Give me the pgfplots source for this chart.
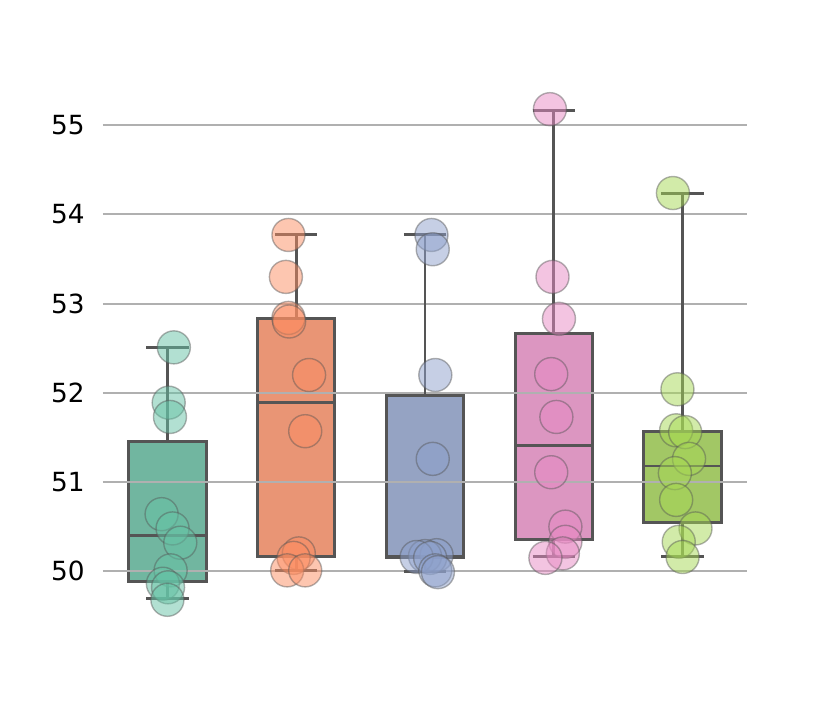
\documentclass[border=0pt]{standalone}
\usepackage{pgfplots}
\pgfplotsset{compat=1.18}
\usepackage{fontspec}
\setmainfont{DejaVu Sans}
\definecolor{bA}{RGB}{113,182,160}
\definecolor{bB}{RGB}{233,149,117}
\definecolor{bC}{RGB}{149,163,195}
\definecolor{bD}{RGB}{220,150,193}
\definecolor{bE}{RGB}{162,199,101}
\definecolor{pA}{HTML}{66C2A5}
\definecolor{pB}{HTML}{FC8D62}
\definecolor{pC}{HTML}{8DA0CB}
\definecolor{pD}{HTML}{E78AC3}
\definecolor{pE}{HTML}{A6D854}
\definecolor{edge}{RGB}{85,85,85}
\definecolor{gridc}{RGB}{176,176,176}
\pgfplotsset{
  bx/.style={line width=1.7pt, draw=edge, solid, mark=none, forget plot, line join=miter},
  ln/.style={line width=1.7pt, color=edge, solid, mark=none, forget plot},
  gl/.style={color=gridc, line width=1.1pt, mark=none, forget plot},
  pts/.style={only marks, mark=*, mark size=9.4pt, mark options={fill=#1, fill opacity=0.5, draw=edge, draw opacity=0.45, line width=0.8pt}},
}
\begin{document}
\begin{tikzpicture}
\useasboundingbox (-2.06,-1.78) rectangle (14.54,12.46);
\begin{axis}[
  scale only axis, width=12.88cm, height=10.74cm,
  xmin=-0.5, xmax=4.5, ymin=49.42, ymax=55.44,
  xtick=\empty,
  ytick={50,51,52,53,54,55},
  axis line style={draw=none},
  major tick length=0pt,
  ymajorgrids, grid style={color=gridc, line width=1.1pt},
  tick label style={font=\fontsize{15}{18}\selectfont},
  yticklabel style={inner sep=0pt, xshift=-0.36cm},
  /pgf/number format/assume math mode=true,
]
% boxes (Q1 to Q3)
\addplot[bx, fill=bA] coordinates {(-0.3,49.89) (0.3,49.89) (0.3,51.45) (-0.3,51.45)} -- cycle;
\addplot[bx, fill=bB] coordinates {(0.7,50.16) (1.3,50.16) (1.3,52.83) (0.7,52.83)} -- cycle;
\addplot[bx, fill=bC] coordinates {(1.7,50.15) (2.3,50.15) (2.3,51.97) (1.7,51.97)} -- cycle;
\addplot[bx, fill=bD] coordinates {(2.7,50.36) (3.3,50.36) (3.3,52.67) (2.7,52.67)} -- cycle;
\addplot[bx, fill=bE] coordinates {(3.7,50.55) (4.3,50.55) (4.3,51.57) (3.7,51.57)} -- cycle;

% grid drawn over the box fills
\addplot[gl] coordinates {(-0.5,50) (4.5,50)};
\addplot[gl] coordinates {(-0.5,51) (4.5,51)};
\addplot[gl] coordinates {(-0.5,52) (4.5,52)};
\addplot[gl] coordinates {(-0.5,53) (4.5,53)};
\addplot[gl] coordinates {(-0.5,54) (4.5,54)};
\addplot[gl] coordinates {(-0.5,55) (4.5,55)};

% medians
\addplot[ln] coordinates {(-0.3,50.40) (0.3,50.40)};
\addplot[ln] coordinates {(0.7,51.89) (1.3,51.89)};
\addplot[ln] coordinates {(1.7,50.17) (2.3,50.17)};
\addplot[ln] coordinates {(2.7,51.41) (3.3,51.41)};
\addplot[ln] coordinates {(3.7,51.18) (4.3,51.18)};

% whiskers
\addplot[ln] coordinates {(0,49.70) (0,49.89)};
\addplot[ln] coordinates {(0,51.45) (0,52.51)};
\addplot[ln] coordinates {(1,50.01) (1,50.16)};
\addplot[ln] coordinates {(1,52.83) (1,53.77)};
\addplot[ln] coordinates {(2,50.00) (2,50.15)};
\addplot[ln] coordinates {(2,51.97) (2,53.77)};
\addplot[ln] coordinates {(3,50.17) (3,50.36)};
\addplot[ln] coordinates {(3,52.67) (3,55.17)};
\addplot[ln] coordinates {(4,50.16) (4,50.55)};
\addplot[ln] coordinates {(4,51.57) (4,54.24)};

% caps
\addplot[ln] coordinates {(-0.165,49.70) (0.165,49.70)};
\addplot[ln] coordinates {(-0.165,52.51) (0.165,52.51)};
\addplot[ln] coordinates {(0.835,50.01) (1.165,50.01)};
\addplot[ln] coordinates {(0.835,53.77) (1.165,53.77)};
\addplot[ln] coordinates {(1.835,50.00) (2.165,50.00)};
\addplot[ln] coordinates {(1.835,53.77) (2.165,53.77)};
\addplot[ln] coordinates {(2.835,50.17) (3.165,50.17)};
\addplot[ln] coordinates {(2.835,55.17) (3.165,55.17)};
\addplot[ln] coordinates {(3.835,50.16) (4.165,50.16)};
\addplot[ln] coordinates {(3.835,54.24) (4.165,54.24)};

% points
\addplot[pts=pA] coordinates {(0.05,52.51) (0.01,51.89) (0.02,51.73) (-0.045,50.64) (0.04,50.48) (0.10,50.32) (0.025,50.01) (-0.035,49.86) (0.005,49.82) (0.0,49.68)};
\addplot[pts=pB] coordinates {(0.94,53.77) (0.92,53.30) (0.94,52.84) (0.945,52.80) (1.10,52.20) (1.07,51.57) (1.02,50.20) (0.98,50.15) (0.93,50.01) (1.07,50.01)};
\addplot[pts=pC] coordinates {(2.05,53.77) (2.06,53.61) (2.08,52.20) (2.06,51.26) (2.09,50.18) (2.0,50.17) (1.935,50.16) (2.04,50.15) (2.08,50.01) (2.10,49.99)};
\addplot[pts=pD] coordinates {(2.97,55.18) (2.99,53.30) (3.04,52.83) (2.98,52.21) (3.02,51.73) (2.98,51.11) (3.09,50.50) (3.09,50.33) (3.07,50.20) (2.935,50.15)};
\addplot[pts=pE] coordinates {(3.925,54.24) (3.96,52.04) (3.95,51.58) (4.02,51.56) (4.05,51.26) (3.94,51.10) (3.95,50.80) (4.10,50.48) (3.97,50.33) (4.0,50.16)};
\end{axis}
\end{tikzpicture}
\end{document}
